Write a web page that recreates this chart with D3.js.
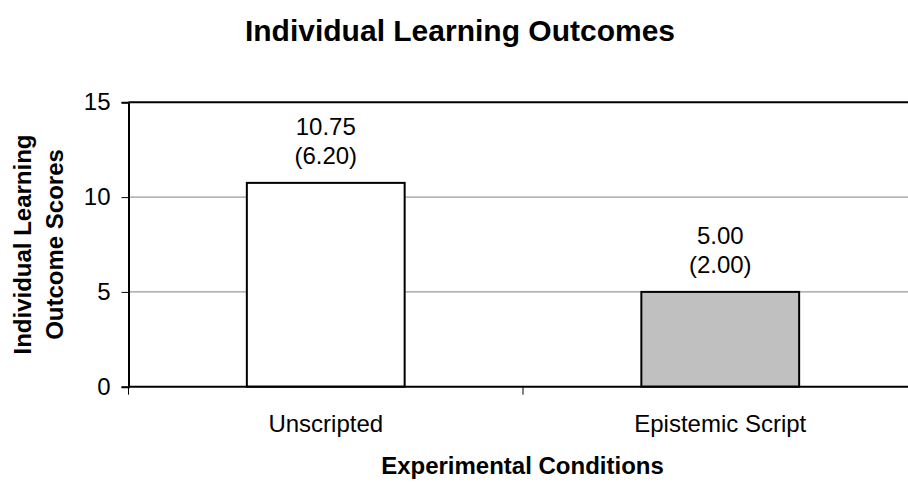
<!DOCTYPE html>
<html>
<head>
<meta charset="utf-8">
<script src="https://cdn.jsdelivr.net/npm/d3@7"></script>
<style>
  html, body { margin: 0; padding: 0; background: #fff; }
  svg { display: block; font-family: Arial, "Liberation Sans", sans-serif; }
</style>
</head>
<body>
<svg id="chart" width="908" height="489"></svg>
<script>
const categories = ["Unscripted", "Epistemic Script"];
const means = [10.75, 5.00];
const sds = [6.20, 2.00];
const fills = ["#ffffff", "#c0c0c0"];
const yTicks = [0, 5, 10, 15];
const titleText = "Individual Learning Outcomes";
const xTitle = "Experimental Conditions";
const yTitleLines = ["Individual Learning", "Outcome Scores"];

const svg = d3.select("#chart");
const plot = { left: 128.5, right: 917.5, top: 102.3, bottom: 386.7 };

const x = d3.scaleBand().domain(categories).range([plot.left, plot.right]).paddingInner(0.6).paddingOuter(0.3);
const xb = d3.scaleBand().domain(categories).range([plot.left, plot.right]);
const y = d3.scaleLinear().domain([0, 15]).range([plot.bottom, plot.top]);

// gridlines
svg.append("g").selectAll("line").data(yTicks.filter(t => t > 0 && t < 15)).join("line")
  .attr("x1", plot.left).attr("x2", plot.right)
  .attr("y1", d => y(d)).attr("y2", d => y(d))
  .attr("stroke", "#808080").attr("stroke-width", 1);

// plot border (top)
svg.append("line").attr("x1", plot.left).attr("x2", plot.right)
  .attr("y1", y(15)).attr("y2", y(15)).attr("stroke", "#000").attr("stroke-width", 2);

// bars
svg.append("g").selectAll("rect").data(categories).join("rect")
  .attr("x", d => x(d)).attr("width", x.bandwidth())
  .attr("y", (d, i) => y(means[i])).attr("height", (d, i) => y(0) - y(means[i]))
  .attr("fill", (d, i) => fills[i]).attr("stroke", "#000").attr("stroke-width", 2);

// y axis
const yAxis = d3.axisLeft(y).tickValues(yTicks).tickSize(7).tickPadding(11).tickFormat(d3.format("d"));
const gy = svg.append("g").attr("transform", `translate(${plot.left},0)`).call(yAxis);
gy.select(".domain").attr("stroke", "#000").attr("stroke-width", 2);
gy.selectAll(".tick line").attr("stroke", "#000").attr("stroke-width", 1);
gy.selectAll(".tick text").attr("font-size", 24).attr("fill", "#000")
  .attr("font-family", "Arial, 'Liberation Sans', sans-serif");

// x axis line
svg.append("line").attr("x1", plot.left).attr("x2", plot.right)
  .attr("y1", y(0)).attr("y2", y(0)).attr("stroke", "#000").attr("stroke-width", 2);
// x ticks at category boundaries
svg.append("g").selectAll("line").data(categories).join("line")
  .attr("x1", d => xb(d)).attr("x2", d => xb(d))
  .attr("y1", y(0)).attr("y2", y(0) + 8)
  .attr("stroke", "#000").attr("stroke-width", 1);

// category labels
svg.append("g").selectAll("text").data(categories).join("text")
  .attr("x", d => xb(d) + xb.bandwidth() / 2).attr("y", 432)
  .attr("text-anchor", "middle").attr("font-size", 24).attr("fill", "#000")
  .text(d => d);

// value labels
const lbl = svg.append("g").selectAll("g").data(categories).join("g");
lbl.append("text")
  .attr("x", d => x(d) + x.bandwidth() / 2).attr("y", (d, i) => y(means[i]) - 48)
  .attr("text-anchor", "middle").attr("font-size", 24).attr("fill", "#000")
  .text((d, i) => means[i].toFixed(2));
lbl.append("text")
  .attr("x", d => x(d) + x.bandwidth() / 2).attr("y", (d, i) => y(means[i]) - 19)
  .attr("text-anchor", "middle").attr("font-size", 24).attr("fill", "#000")
  .text((d, i) => "(" + sds[i].toFixed(2) + ")");

// title
svg.append("text").attr("x", 460).attr("y", 41).attr("text-anchor", "middle")
  .attr("font-size", 30).attr("font-weight", "bold").attr("fill", "#000").text(titleText);

// x title
svg.append("text").attr("x", (plot.left + plot.right) / 2 - 0.5).attr("y", 474).attr("text-anchor", "middle")
  .attr("font-size", 24).attr("font-weight", "bold").attr("fill", "#000").text(xTitle);

// y title
const yc = (plot.top + plot.bottom) / 2;
const ybase = [31, 63];
svg.append("g").selectAll("text").data(yTitleLines).join("text")
  .attr("transform", (d, i) => `translate(${ybase[i]},${yc}) rotate(-90)`)
  .attr("text-anchor", "middle").attr("font-size", 24).attr("font-weight", "bold").attr("fill", "#000")
  .text(d => d);
</script>
</body>
</html>
